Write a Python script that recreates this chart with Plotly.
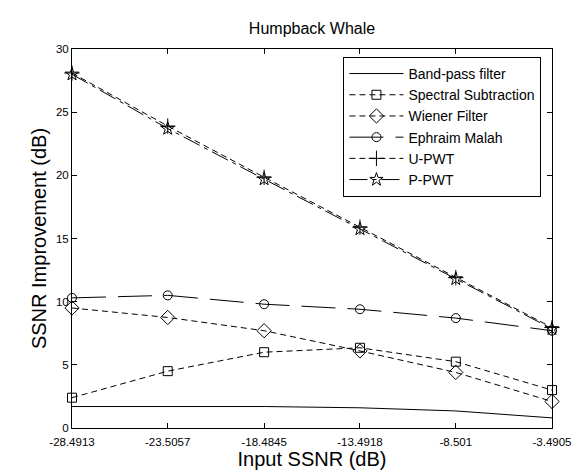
import plotly.graph_objects as go

x_vals = [-28.4913, -23.5057, -18.4845, -13.4918, -8.501, -3.4905]
x_labels = ["-28.4913", "-23.5057", "-18.4845", "-13.4918", "-8.501", "-3.4905"]
y_ticks = [0, 5, 10, 15, 20, 25, 30]

band_pass = [1.7, 1.7, 1.7, 1.6, 1.35, 0.8]
spectral_sub = [2.4, 4.5, 6.0, 6.35, 5.25, 3.0]
wiener = [9.5, 8.75, 7.7, 6.1, 4.4, 2.1]
ephraim = [10.3, 10.5, 9.8, 9.4, 8.7, 7.7]
u_pwt = [28.1, 23.9, 19.85, 15.9, 11.9, 7.95]
p_pwt = [28.0, 23.7, 19.7, 15.75, 11.8, 7.85]

series = [
    ("Band-pass filter", band_pass, "solid", None, 0),
    ("Spectral Subtraction", spectral_sub, "6px,4px", "square-open", 9),
    ("Wiener Filter", wiener, "6px,4px", "diamond-open", 11),
    ("Ephraim Malah", ephraim, "34px,12px", "circle-open", 9),
    ("U-PWT", u_pwt, "6px,4px", "cross-thin-open", 11),
    ("P-PWT", p_pwt, "18px,5px,4px,5px", "star-open", 10),
]

fig = go.Figure()
for name, vals, dash, sym, msize in series:
    mode = "lines" if sym is None else "lines+markers"
    kw = {}
    if sym is not None:
        kw["marker"] = dict(symbol=sym, size=msize, color="black",
                            line=dict(color="black", width=1))
    fig.add_trace(go.Scatter(
        x=x_vals, y=vals, name=name, mode=mode,
        line=dict(color="black", width=1, dash=dash),
        cliponaxis=False, **kw))

axis_common = dict(
    showline=True, linecolor="black", linewidth=1, mirror="ticks",
    ticks="inside", ticklen=5, tickcolor="black", showgrid=False,
    zeroline=False, tickfont=dict(size=11.5, color="black"),
)

fig.update_layout(
    width=580, height=470,
    margin=dict(l=64, r=36, t=41, b=50),
    paper_bgcolor="white", plot_bgcolor="white",
    font=dict(family="Liberation Sans, Arial, sans-serif", color="black"),
    title=dict(text="Humpback Whale", x=304 / 580, xanchor="center",
               y=1 - 20 / 470, yanchor="middle", yref="container",
               font=dict(size=16, color="black")),
    xaxis=dict(range=[x_vals[0], x_vals[-1]], tickmode="array",
               tickvals=x_vals, ticktext=x_labels, ticklabelstandoff=3,
               title=dict(text="Input SSNR (dB)", font=dict(size=20), standoff=3),
               **axis_common),
    yaxis=dict(range=[0, 30], tickmode="array", tickvals=y_ticks,
               title=dict(text="SSNR Improvement (dB)", font=dict(size=20), standoff=3),
               **axis_common),
    legend=dict(x=0.978, xanchor="right", y=0.979, yanchor="top",
                bordercolor="black", borderwidth=1, bgcolor="white",
                itemwidth=54, font=dict(size=14, color="black"),
                tracegroupgap=0),
    showlegend=True,
)

fig.write_html("out.html")
